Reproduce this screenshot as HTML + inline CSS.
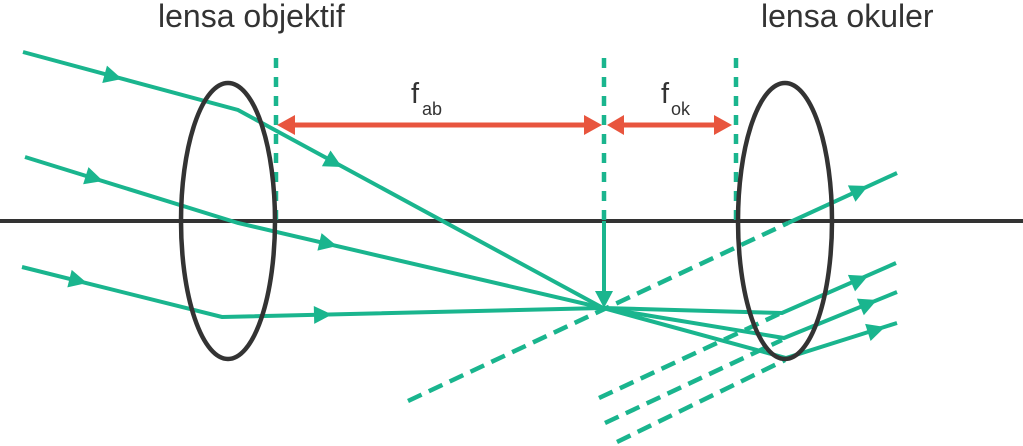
<!DOCTYPE html>
<html>
<head>
<meta charset="utf-8">
<style>
  html,body{margin:0;padding:0;background:#fff;}
  body{width:1023px;height:446px;overflow:hidden;}
  svg{display:block;}
  text{font-family:"Liberation Sans",sans-serif;fill:#333;}
</style>
</head>
<body>
<svg width="1023" height="446" viewBox="0 0 1023 446" xmlns="http://www.w3.org/2000/svg">
  <!-- labels -->
  <text x="158" y="27" font-size="32">lensa objektif</text>
  <text x="761" y="27" font-size="32">lensa okuler</text>

  <text x="411" y="103" font-size="29">f</text>
  <text x="422" y="115" font-size="18">ab</text>
  <text x="661" y="103" font-size="29">f</text>
  <text x="671" y="115" font-size="18">ok</text>

  <!-- optical axis -->
  <line x1="0" y1="221" x2="1023" y2="221" stroke="#333" stroke-width="4"/>

  <!-- vertical dashed focal lines -->
  <g stroke="#1ab58e" stroke-width="4.5" stroke-dasharray="10,9" fill="none">
    <line x1="276" y1="58" x2="276" y2="221"/>
    <line x1="604" y1="58" x2="604" y2="221"/>
    <line x1="736" y1="58" x2="736" y2="221"/>
  </g>
  <!-- solid vertical arrow down to focal point -->
  <line x1="604" y1="221" x2="604" y2="295" stroke="#1ab58e" stroke-width="4"/>
  <polygon points="604,308 595,291 613,291" fill="#1ab58e"/>

  <!-- red dimension arrows -->
  <g fill="#e8553e">
    <rect x="292" y="122.5" width="294" height="5"/>
    <polygon points="277,125 295,115 295,135"/>
    <polygon points="602,125 584,115 584,135"/>
    <rect x="622" y="122.5" width="94" height="5"/>
    <polygon points="607,125 624,115 624,135"/>
    <polygon points="732,125 714,115 714,135"/>
  </g>

  <!-- rays -->
  <g stroke="#1ab58e" stroke-width="4" fill="none" stroke-linejoin="miter">
    <polyline points="23,52 238,110 603,308"/>
    <polyline points="25,157 238,223 603,308"/>
    <polyline points="22,267 222,317 603,308"/>
    <polyline points="603,308 782,313 896,263"/>
    <polyline points="603,308 784,338 897,292"/>
    <polyline points="603,308 786,358 897,323"/>
    <line x1="788" y1="223" x2="897" y2="173"/>
  </g>
  <!-- dashed back-extensions -->
  <g stroke="#1ab58e" stroke-width="4.5" stroke-dasharray="15,8" fill="none">
    <line x1="408" y1="401" x2="788" y2="223"/>
    <line x1="599" y1="398" x2="779" y2="314"/>
    <line x1="605" y1="423" x2="782" y2="340"/>
    <line x1="617" y1="442" x2="785" y2="360"/>
  </g>

  <!-- ray arrowheads -->
  <g fill="#1ab58e">
    <polygon points="0,0 -18,-9 -18,9" transform="translate(122,79) rotate(15.1)"/>
    <polygon points="0,0 -18,-9 -18,9" transform="translate(342,167) rotate(28.6)"/>
    <polygon points="0,0 -18,-9 -18,9" transform="translate(103,181) rotate(17.2)"/>
    <polygon points="0,0 -18,-9 -18,9" transform="translate(337,246) rotate(13.3)"/>
    <polygon points="0,0 -18,-9 -18,9" transform="translate(87,283) rotate(14)"/>
    <polygon points="0,0 -18,-9 -18,9" transform="translate(332,314.5) rotate(-1.4)"/>
    <polygon points="0,0 -18,-9 -18,9" transform="translate(868,276) rotate(-23.3)"/>
    <polygon points="0,0 -18,-9 -18,9" transform="translate(877,300) rotate(-22.5)"/>
    <polygon points="0,0 -18,-9 -18,9" transform="translate(885,327) rotate(-17.7)"/>
    <polygon points="0,0 -18,-9 -18,9" transform="translate(868,186) rotate(-24.9)"/>
  </g>

  <!-- lenses -->
  <ellipse cx="228" cy="221" rx="47" ry="138" fill="none" stroke="#333" stroke-width="4.5"/>
  <ellipse cx="785" cy="221" rx="47" ry="138" fill="none" stroke="#333" stroke-width="4.5"/>
</svg>
</body>
</html>
